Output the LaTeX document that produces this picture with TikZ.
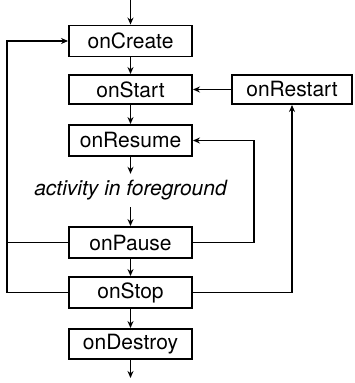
\documentclass[tikz,border=0pt]{standalone}
\usepackage{fontspec}
\setmainfont{TeX Gyre Heros}
\usetikzlibrary{arrows.meta}
\begin{document}
\begin{tikzpicture}[x=1pt,y=-1pt,
  cb/.style={draw,line width=1.9pt,minimum width=123pt,minimum height=31pt,inner sep=0pt,font=\fontsize{21}{25}\selectfont},
  ln/.style={line width=1.7pt},
  ar/.style={line width=1.7pt,-{Stealth[length=7pt,width=6pt]}}]
\useasboundingbox (0,0) rectangle (354,383);
\node[cb] (create) at (130.5,41) {onCreate};
\node[cb,minimum height=29pt] (start) at (130.5,89.5) {onStart};
\node[cb,minimum width=120pt,minimum height=29pt] (restart) at (292,89.5) {onRestart};
\node[cb] (resume) at (130.5,140.5) {onResume};
\node[inner sep=0pt,minimum height=33pt,font=\fontsize{21}{25}\selectfont\itshape] (fg) at (130.5,190.5) {activity in foreground};
\node[cb] (pause) at (130.5,242.5) {onPause};
\node[cb] (stop) at (130.5,292.5) {onStop};
\node[cb,minimum height=30pt] (destroy) at (130.5,344) {onDestroy};
\coordinate (top) at (130.5,0);
\coordinate (bot) at (130.5,378);
\draw[ar] (top) -- (create);
\draw[ar] (create) -- (start);
\draw[ar] (start) -- (resume);
\draw[ar] (resume) -- (fg);
\draw[ar] (fg) -- (pause);
\draw[ar] (pause) -- (stop);
\draw[ar] (stop) -- (destroy);
\draw[ar] (destroy) -- (bot);
\draw[ar] (restart) -- (start);
\draw[ar] (pause.east) -- ++(61,0) |- (resume.east);
\draw[ar] (stop.east) -| (restart.south);
\draw[ar] (stop.west) -- ++(-61,0) |- (create.west);
\draw[ln] (pause.west) -- ++(-61,0);
\end{tikzpicture}
\end{document}
